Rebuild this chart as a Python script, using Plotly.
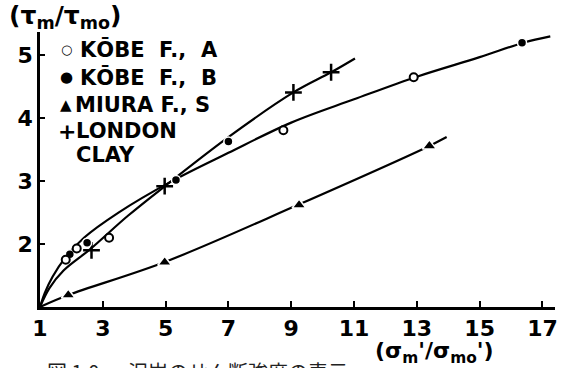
import plotly.graph_objects as go

# ---- data ----
kobe_a_x = [1.82, 2.17, 3.2, 8.75, 12.9]
kobe_a_y = [1.75, 1.93, 2.1, 3.81, 4.65]
kobe_b_x = [1.95, 2.5, 5.33, 7.0, 16.35]
kobe_b_y = [1.84, 2.02, 3.02, 3.63, 5.2]
miura_x = [1.9, 4.97, 9.25, 13.4]
miura_y = [1.19, 1.71, 2.62, 3.56]
london_x = [2.64, 4.97, 9.07, 10.27]
london_y = [1.9, 2.92, 4.41, 4.73]

# drawn (fitted) curves
kobe_curve_x = [1, 1.15, 1.4, 1.8, 2.4, 3.5, 5.2, 7, 9, 11, 13, 15, 16.4, 17.25]
kobe_curve_y = [1, 1.22, 1.48, 1.78, 2.1, 2.5, 3.0, 3.45, 3.93, 4.3, 4.66, 4.97, 5.2, 5.3]
london_curve_x = [1, 1.3, 1.75, 2.6, 3.8, 5, 7, 9.07, 10.27, 11.03]
london_curve_y = [1, 1.3, 1.58, 1.92, 2.45, 2.93, 3.7, 4.41, 4.73, 4.95]
miura_curve_x = [1, 1.9, 5, 9.2, 13.4, 13.95]
miura_curve_y = [1, 1.19, 1.72, 2.62, 3.56, 3.7]

x_ticks = [1, 3, 5, 7, 9, 11, 13, 15, 17]
y_ticks = [2, 3, 4, 5]

legend_symbols = ["○", "●", "▲", "+"]
legend_labels = ["KŌBE\u00a0\u00a0F.,\u00a0\u00a0A", "KŌBE\u00a0\u00a0F.,\u00a0\u00a0B",
                 "MIURA\u00a0F.,\u00a0S", "LONDON", "CLAY"]
caption_no = "図 1.0"
caption_text = "泥岩のせん断強度の表示"

FONT = "DejaVu Sans, sans-serif"
W, H = 567, 368
ML, MR, MT, MB = 40, 9, 32, 61
PW, PH = W - ML - MR, H - MT - MB


def px(x):
    return (x - ML) / PW


def py(y):
    return (H - MB - y) / PH


fig = go.Figure()
line_style = dict(color="black", width=2.2)
for cx, cy in [(kobe_curve_x, kobe_curve_y), (london_curve_x, london_curve_y),
               (miura_curve_x, miura_curve_y)]:
    fig.add_trace(go.Scatter(x=cx, y=cy, mode="lines", line=line_style,
                             line_shape="spline", hoverinfo="skip", showlegend=False))

fig.add_trace(go.Scatter(x=miura_x, y=miura_y, mode="markers", showlegend=False,
                         marker=dict(symbol="triangle-up", size=12, color="black",
                                     line=dict(color="white", width=1.5))))
fig.add_trace(go.Scatter(x=london_x, y=london_y, mode="markers", showlegend=False,
                         marker=dict(symbol="cross-thin", size=12, color="black",
                                     line=dict(color="black", width=2.5))))
fig.add_trace(go.Scatter(x=kobe_b_x, y=kobe_b_y, mode="markers", showlegend=False,
                         marker=dict(symbol="circle", size=9, color="black",
                                     line=dict(color="white", width=1.5))))
fig.add_trace(go.Scatter(x=kobe_a_x, y=kobe_a_y, mode="markers", showlegend=False,
                         marker=dict(symbol="circle", size=8, color="white",
                                     line=dict(color="black", width=2))))

ann = []
# legend
rows_y = [49.5, 77.5, 105, 131, 155]
sym_x = [67, 67, 66, 67]
sym_size = [13, 15, 15, 22]
for i, s in enumerate(legend_symbols):
    ann.append(dict(x=px(sym_x[i]), y=py(rows_y[i]), xref="paper", yref="paper",
                    text=s, showarrow=False, xanchor="center", yanchor="middle",
                    font=dict(family="DejaVu Sans", size=sym_size[i], color="black", weight="bold")))
text_x = [78, 78, 73, 74, 74]
for i, t in enumerate(legend_labels):
    ann.append(dict(x=px(text_x[i]), y=py(rows_y[i]), xref="paper", yref="paper",
                    text=t, showarrow=False, xanchor="left", yanchor="middle",
                    font=dict(family=FONT, size=21, color="black", weight="bold")))
# axis titles
ann.append(dict(x=px(7), y=py(17), xref="paper", yref="paper", xanchor="left", yanchor="middle",
                text="(τ<sub>m</sub>/τ<sub>mo</sub>)", showarrow=False,
                font=dict(family=FONT, size=25, color="black", weight="bold")))
ann.append(dict(x=px(375), y=py(352), xref="paper", yref="paper", xanchor="left", yanchor="middle",
                text="(σ<sub>m</sub>'/σ<sub>mo</sub>')", showarrow=False,
                font=dict(family=FONT, size=22, color="black", weight="bold")))
# caption (cut off at the bottom in the reference)
ann.append(dict(x=px(45), y=py(355), xref="paper", yref="paper", xanchor="left", yanchor="top",
                text=caption_no, showarrow=False,
                font=dict(family="Noto Sans CJK JP", size=20, color="#222")))
ann.append(dict(x=px(126), y=py(355), xref="paper", yref="paper", xanchor="left", yanchor="top",
                text=caption_text, showarrow=False,
                font=dict(family="Noto Sans CJK JP", size=20, color="#222")))

fig.update_layout(
    width=W, height=H,
    margin=dict(l=ML, r=MR, t=MT, b=MB),
    paper_bgcolor="white", plot_bgcolor="white",
    showlegend=False,
    annotations=ann,
    xaxis=dict(range=[1, 17.4], tickvals=x_ticks, ticktext=[str(v) for v in x_ticks],
               showline=True, linecolor="black", linewidth=2.5, showgrid=False, zeroline=False,
               ticks="inside", ticklen=6, tickwidth=2, tickcolor="black",
               tickfont=dict(family=FONT, size=22, color="black", weight="bold")),
    yaxis=dict(range=[1, 5.37], tickvals=y_ticks, ticktext=[str(v) for v in y_ticks],
               showline=True, linecolor="black", linewidth=2.5, showgrid=False, zeroline=False,
               ticks="inside", ticklen=5, tickwidth=2, tickcolor="black",
               tickfont=dict(family=FONT, size=22, color="black", weight="bold")),
)

fig.write_html("out.html", config={"displayModeBar": False},
               post_script="document.body.style.margin='0px';")
